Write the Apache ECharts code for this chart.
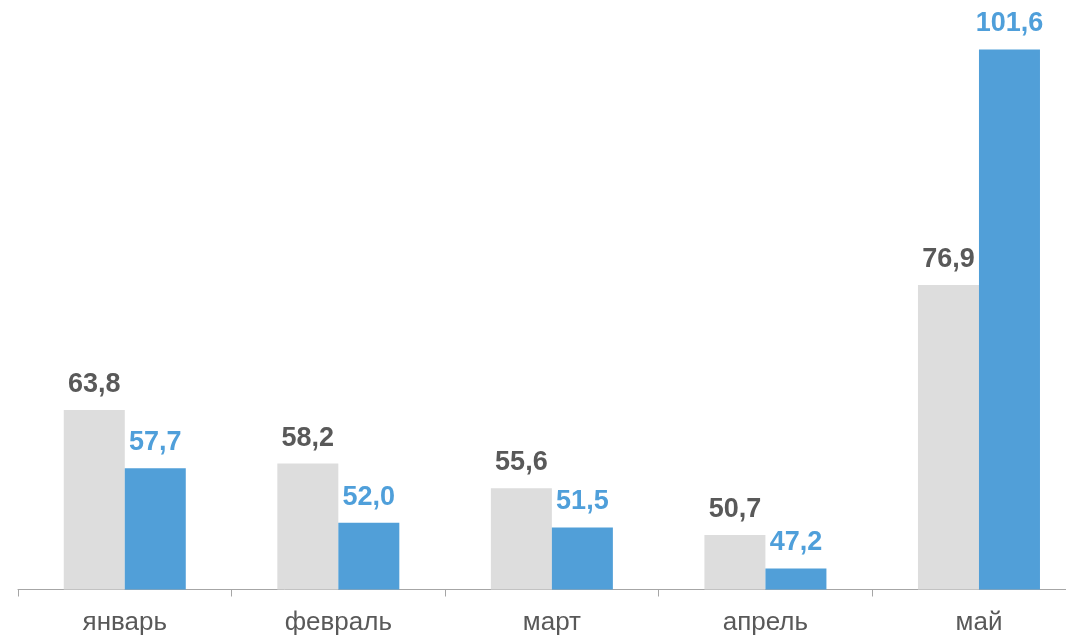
<!DOCTYPE html>
<html><head><meta charset="utf-8">
<script src="https://cdn.jsdelivr.net/npm/echarts@6/dist/echarts.min.js"></script>
<style>html,body{margin:0;padding:0;background:#fff;overflow:hidden}#c{width:1090px;height:636px}</style>
</head><body><div id="c"></div>
<script>
const categories = ['январь', 'февраль', 'март', 'апрель', 'май'];
const seriesGray = [63.8, 58.2, 55.6, 50.7, 76.9];
const seriesBlue = [57.7, 52.0, 51.5, 47.2, 101.6];
const fmt = p => p.value.toFixed(1).replace('.', ',');
const chart = echarts.init(document.getElementById('c'));
chart.setOption({
  animation: false,
  grid: { left: 18, right: 4.25, top: 17, bottom: 46.5, containLabel: false },
  xAxis: {
    type: 'category', data: categories,
    axisLine: { lineStyle: { color: '#a6a6a6', width: 1 } },
    axisTick: { show: true, length: 7, lineStyle: { color: '#a6a6a6' } },
    axisLabel: { color: '#595959', fontSize: 26, fontFamily: 'Liberation Sans, Arial', margin: 20 }
  },
  yAxis: { type: 'value', min: 45, max: 105, show: false, splitLine: { show: false } },
  series: [
    { type: 'bar', data: seriesGray, barWidth: 61, barGap: '0%',
      itemStyle: { color: '#dddddd' },
      label: { show: true, position: 'top', distance: 12, formatter: fmt, color: '#595959', fontSize: 27, fontWeight: 'bold', fontFamily: 'Liberation Sans, Arial' } },
    { type: 'bar', data: seriesBlue, barWidth: 61, barGap: '0%',
      itemStyle: { color: '#519fd8' },
      label: { show: true, position: 'top', distance: 12, formatter: fmt, color: '#4f9fda', fontSize: 27, fontWeight: 'bold', fontFamily: 'Liberation Sans, Arial' } }
  ]
});
</script></body></html>
